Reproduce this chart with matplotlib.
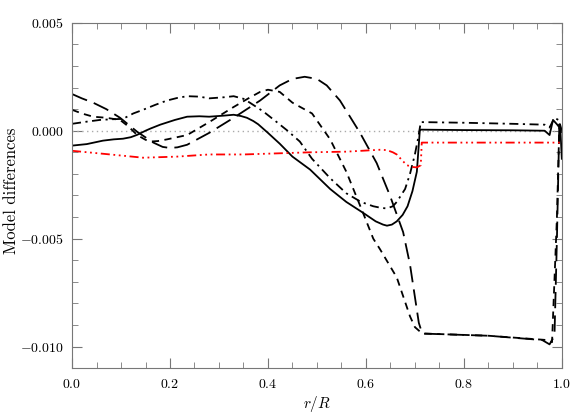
import matplotlib.pyplot as plt
from matplotlib.ticker import MultipleLocator, FuncFormatter

# data
solid_x = [0.0, 0.03, 0.063, 0.085, 0.104, 0.12, 0.133, 0.15, 0.16, 0.18, 0.21, 0.235, 0.26,
           0.28, 0.31, 0.33, 0.345, 0.357, 0.37, 0.38, 0.40, 0.424, 0.45, 0.486, 0.527, 0.56,
           0.594, 0.62, 0.635, 0.643, 0.653, 0.663, 0.675, 0.685, 0.695, 0.704, 0.71, 0.712,
           0.80, 0.90, 0.965, 0.975, 0.982, 0.99, 0.997, 1.0]
solid_y = [-0.00069, -0.00062, -0.00046, -0.0004, -0.00037, -0.0003, -0.00019, 0.0, 0.0001,
           0.00028, 0.0005, 0.00065, 0.00067, 0.00065, 0.0007, 0.00074, 0.00068, 0.0006, 0.00045,
           0.0003, -0.0001, -0.0006, -0.0012, -0.0018, -0.0027, -0.0033, -0.0038, -0.0042,
           -0.00435, -0.0044, -0.00435, -0.0042, -0.0039, -0.0035, -0.0028, -0.0019, 0.0,
           0.00005, 0.00003, 0.00002, 0.0, -0.0002, 0.0005, 0.0003, 0.0001, -0.0013]

dashdot_x = [0.0, 0.03, 0.057, 0.08, 0.104, 0.125, 0.145, 0.17, 0.194, 0.215, 0.235, 0.26,
             0.28, 0.31, 0.33, 0.35, 0.363, 0.39, 0.418, 0.44, 0.465, 0.49, 0.527, 0.56, 0.59,
             0.615, 0.632, 0.643, 0.655, 0.663, 0.68, 0.69, 0.70, 0.707, 0.712, 0.80, 0.90,
             0.965, 0.975, 0.985, 0.993, 1.0]
dashdot_y = [0.00032, 0.00042, 0.0005, 0.00053, 0.00055, 0.0008, 0.00097, 0.0012, 0.0014,
             0.00152, 0.0016, 0.00158, 0.0015, 0.00155, 0.0016, 0.00148, 0.0013, 0.0009, 0.0004,
             0.0, -0.0005, -0.0013, -0.0022, -0.0029, -0.0033, -0.0035, -0.00358, -0.0036,
             -0.0035, -0.0033, -0.0027, -0.002, -0.0011, -0.0003, 0.0004, 0.00037, 0.00032,
             0.00028, 0.00015, 0.0006, 0.0005, -0.0003]

short_x = [0.0, 0.02, 0.043, 0.07, 0.098, 0.115, 0.133, 0.15, 0.16, 0.175, 0.194, 0.235, 0.28,
           0.33, 0.36, 0.384, 0.40, 0.424, 0.45, 0.49, 0.527, 0.56, 0.594, 0.615, 0.629, 0.663,
           0.69, 0.70, 0.71, 0.72, 0.85, 0.97, 0.98, 0.99, 0.995, 1.0]
short_y = [0.00097, 0.0008, 0.00065, 0.0006, 0.0005, 0.0002, -0.0002, -0.00042, -0.0005,
           -0.00048, -0.0004, -0.0002, 0.0004, 0.0011, 0.0015, 0.0018, 0.0019, 0.0018, 0.0013,
           0.0008, -0.0004, -0.0019, -0.0038, -0.005, -0.0055, -0.0068, -0.0086, -0.0091,
           -0.0093, -0.0094, -0.0095, -0.0097, -0.0098, -0.004, 0.0003, 0.0]

long_x = [0.0, 0.02, 0.043, 0.07, 0.098, 0.133, 0.166, 0.185, 0.2, 0.215, 0.235, 0.28, 0.33,
          0.384, 0.424, 0.45, 0.475, 0.50, 0.52, 0.547, 0.588, 0.622, 0.649, 0.676, 0.69, 0.708,
          0.715, 0.85, 0.96, 0.975, 0.985, 0.99, 0.995, 1.0]
long_y = [0.0017, 0.0015, 0.0013, 0.001, 0.0006, -0.00005, -0.00055, -0.00075, -0.0008,
          -0.00077, -0.00065, -0.0001, 0.0006, 0.0014, 0.0021, 0.0024, 0.0025, 0.0024, 0.0021,
          0.0014, -0.0001, -0.0015, -0.003, -0.0047, -0.0062, -0.0089, -0.0094, -0.0095,
          -0.0097, -0.0099, -0.0095, -0.005, 0.0004, 0.0]

red_x = [0.0, 0.078, 0.145, 0.214, 0.28, 0.35, 0.418, 0.486, 0.56, 0.63, 0.643, 0.655, 0.663,
         0.675, 0.684, 0.695, 0.704, 0.712, 0.714, 1.0]
red_y = [-0.00093, -0.0011, -0.00125, -0.0012, -0.0011, -0.0011, -0.00105, -0.001, -0.00097,
         -0.00088, -0.0009, -0.001, -0.0011, -0.0014, -0.0016, -0.00168, -0.0017, -0.0016,
         -0.00055, -0.00055]

plt.rcParams['font.family'] = ['cmr10', 'DejaVu Serif']
plt.rcParams['mathtext.fontset'] = 'cm'

fig = plt.figure(figsize=(5.81, 4.15), dpi=100)
ax = fig.add_axes([0.124, 0.113, 0.843, 0.832])

ax.axhline(0.0, color='#aaaaaa', lw=1.0, ls=(0, (1, 2.5)))
ax.plot(solid_x, solid_y, color='black', lw=1.3)
ax.plot(dashdot_x, dashdot_y, color='black', lw=1.3, ls=(0, (5, 2.5, 1.2, 2.5)))
ax.plot(short_x, short_y, color='black', lw=1.3, ls=(0, (4, 3)))
ax.plot(long_x, long_y, color='black', lw=1.3, ls=(0, (9, 4)))
ax.plot(red_x, red_y, color='red', lw=1.3, ls=(0, (5, 2, 1, 2, 1, 2, 1, 2)))

ax.set_xlim(0, 1)
ax.set_ylim(-0.011, 0.005)
ax.xaxis.set_major_locator(MultipleLocator(0.2))
ax.xaxis.set_minor_locator(MultipleLocator(0.05))
ax.yaxis.set_major_locator(MultipleLocator(0.005))
ax.yaxis.set_minor_locator(MultipleLocator(0.001))
ax.xaxis.set_major_formatter(FuncFormatter(lambda v, p: '$%.1f$' % v))
ax.yaxis.set_major_formatter(FuncFormatter(lambda v, p: '$%.3f$' % (0.0 if abs(v) < 1e-9 else v)))

ax.tick_params(which='both', direction='in', top=True, right=True, color='#777777',
               labelsize=10)
ax.tick_params(which='major', length=7)
ax.tick_params(which='minor', length=4)
ax.tick_params(axis='x', which='major', pad=7)
ax.tick_params(axis='y', which='major', pad=6)
for s in ax.spines.values():
    s.set_color('#777777')

ax.set_xlabel('$r/R$', fontsize=11, labelpad=2)
ax.set_ylabel('Model differences', fontsize=12)
ax.yaxis.set_label_coords(-0.108, 0.515)

fig.savefig('out.png', dpi=100)
